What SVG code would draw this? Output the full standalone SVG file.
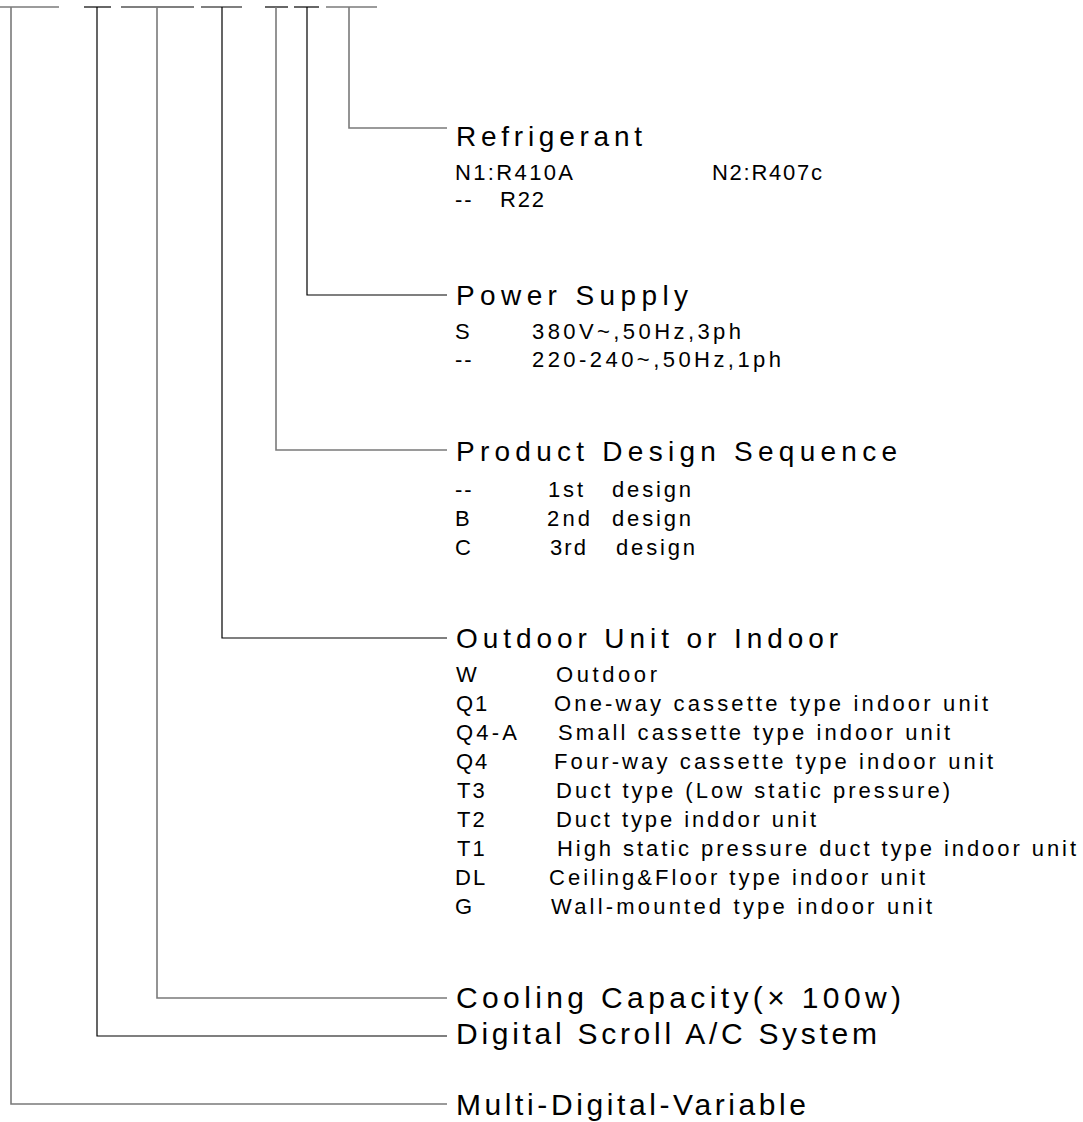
<svg xmlns="http://www.w3.org/2000/svg" width="1083" height="1122" viewBox="0 0 1083 1122">
<style>
.bg{fill:#fff}
.k{stroke:#000;stroke-width:1.2;fill:none}
.g{stroke:#7a7a7a;stroke-width:1.6;fill:none}
.h{font-family:"Liberation Sans",Arial,sans-serif;font-size:28px;fill:#000}
.hb{font-family:"Liberation Sans",Arial,sans-serif;font-size:30px;fill:#000}
.r{font-family:"Liberation Sans",Arial,sans-serif;font-size:22px;fill:#000;letter-spacing:2px}
</style>
<rect class="bg" x="0" y="0" width="1083" height="1122"/>
<g id="code-bar">
<line class="g" x1="0" y1="7" x2="59" y2="7"/>
<line class="k" x1="84" y1="7" x2="111" y2="7"/>
<line class="k" x1="121" y1="7" x2="194" y2="7"/>
<line class="k" x1="201" y1="7" x2="242" y2="7"/>
<line class="k" x1="265" y1="7" x2="288" y2="7"/>
<line class="k" x1="294" y1="7" x2="319" y2="7"/>
<line class="g" x1="326" y1="7" x2="377" y2="7"/>
</g>
<g id="connectors">
<path class="g" d="M349 7V128H447"/>
<path class="k" d="M307 7V295H447"/>
<path class="g" d="M276 7V450H447"/>
<path class="k" d="M222 7V638H447"/>
<path class="g" d="M157 7V998H447"/>
<path class="k" d="M97 7V1036H447"/>
<path class="g" d="M11 7V1104H447"/>
</g>
<g id="refrigerant">
<text class="h" x="456" y="146" textLength="186" lengthAdjust="spacing">Refrigerant</text>
<text class="r" x="455" y="180" textLength="120" lengthAdjust="spacing">N1:R410A</text>
<text class="r" x="712" y="180" textLength="112" lengthAdjust="spacing">N2:R407c</text>
<text class="r" x="455" y="207">--</text>
<text class="r" x="500" y="207" textLength="46" lengthAdjust="spacing">R22</text>
</g>
<g id="power-supply">
<text class="h" x="456" y="305" textLength="232" lengthAdjust="spacing">Power Supply</text>
<text class="r" x="455" y="339">S</text>
<text class="r" x="532" y="339" textLength="211" lengthAdjust="spacing">380V~,50Hz,3ph</text>
<text class="r" x="455" y="367">--</text>
<text class="r" x="532" y="367" textLength="251" lengthAdjust="spacing">220-240~,50Hz,1ph</text>
</g>
<g id="design-sequence">
<text class="h" x="456" y="461" textLength="441" lengthAdjust="spacing">Product Design Sequence</text>
<text class="r" x="455" y="497">--</text>
<text class="r" x="548" y="497" textLength="37" lengthAdjust="spacing">1st</text>
<text class="r" x="612" y="497" textLength="81" lengthAdjust="spacing">design</text>
<text class="r" x="455" y="526">B</text>
<text class="r" x="547" y="526" textLength="45" lengthAdjust="spacing">2nd</text>
<text class="r" x="612" y="526" textLength="81" lengthAdjust="spacing">design</text>
<text class="r" x="455" y="555">C</text>
<text class="r" x="550" y="555" textLength="38" lengthAdjust="spacing">3rd</text>
<text class="r" x="616" y="555" textLength="81" lengthAdjust="spacing">design</text>
</g>
<g id="unit-type">
<text class="h" x="456" y="648" textLength="382" lengthAdjust="spacing">Outdoor Unit or Indoor</text>
<text class="r" x="456" y="682">W</text>
<text class="r" x="556" y="682" textLength="103" lengthAdjust="spacing">Outdoor</text>
<text class="r" x="456" y="711">Q1</text>
<text class="r" x="554" y="711" textLength="436" lengthAdjust="spacing">One-way cassette type indoor unit</text>
<text class="r" x="456" y="740" textLength="63" lengthAdjust="spacing">Q4-A</text>
<text class="r" x="558" y="740" textLength="394" lengthAdjust="spacing">Small cassette type indoor unit</text>
<text class="r" x="456" y="769">Q4</text>
<text class="r" x="554" y="769" textLength="441" lengthAdjust="spacing">Four-way cassette type indoor unit</text>
<text class="r" x="457" y="798">T3</text>
<text class="r" x="556" y="798" textLength="396" lengthAdjust="spacing">Duct type (Low static pressure)</text>
<text class="r" x="457" y="827">T2</text>
<text class="r" x="556" y="827" textLength="262" lengthAdjust="spacing">Duct type inddor unit</text>
<text class="r" x="457" y="856">T1</text>
<text class="r" x="557" y="856" textLength="521" lengthAdjust="spacing">High static pressure duct type indoor unit</text>
<text class="r" x="455" y="885">DL</text>
<text class="r" x="549" y="885" textLength="378" lengthAdjust="spacing">Ceiling&amp;Floor type indoor unit</text>
<text class="r" x="455" y="914">G</text>
<text class="r" x="551" y="914" textLength="383" lengthAdjust="spacing">Wall-mounted type indoor unit</text>
</g>
<g id="cooling-capacity">
<text class="hb" x="456" y="1008" textLength="445" lengthAdjust="spacing">Cooling Capacity(× 100w)</text>
</g>
<g id="digital-scroll">
<text class="hb" x="456" y="1044" textLength="421" lengthAdjust="spacing">Digital Scroll A/C System</text>
</g>
<g id="multi-digital">
<text class="hb" x="456" y="1115" textLength="350" lengthAdjust="spacing">Multi-Digital-Variable</text>
</g>
</svg>
